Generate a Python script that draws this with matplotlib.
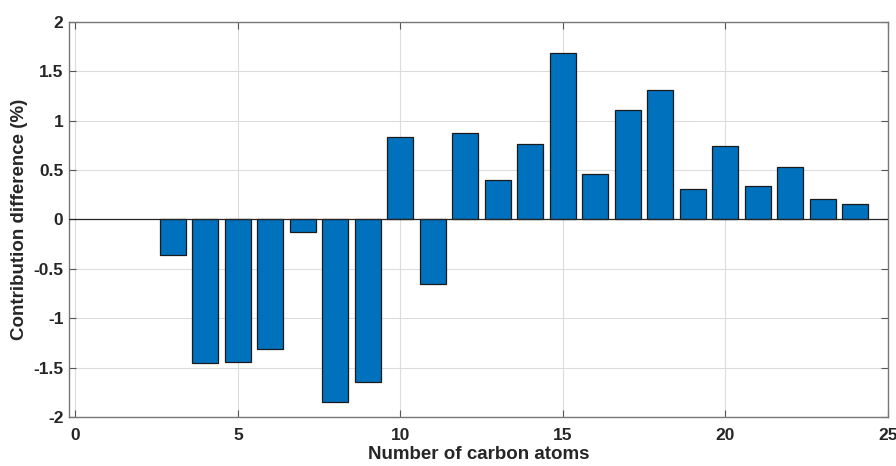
import matplotlib
matplotlib.use("Agg")
import matplotlib.pyplot as plt

carbon_atoms = [3, 4, 5, 6, 7, 8, 9, 10, 11, 12, 13, 14, 15, 16, 17, 18, 19, 20, 21, 22, 23, 24]
contribution_diff = [-0.36, -1.45, -1.44, -1.31, -0.13, -1.85, -1.64, 0.84, -0.65, 0.875,
                     0.40, 0.76, 1.69, 0.46, 1.11, 1.31, 0.305, 0.74, 0.335, 0.535, 0.21, 0.155]
x_ticks = [0, 5, 10, 15, 20, 25]
y_ticks = [-2, -1.5, -1, -0.5, 0, 0.5, 1, 1.5, 2]

plt.rcParams['font.family'] = ['Liberation Sans', 'DejaVu Sans']
plt.rcParams['font.weight'] = 'bold'

fig = plt.figure(figsize=(8.96, 4.66), dpi=100)
ax = fig.add_axes([0.077, 0.105, 0.914, 0.848])

ax.bar(carbon_atoms, contribution_diff, width=0.8, color='#0072BD',
       edgecolor='#1a1a1a', linewidth=0.9, zorder=3)
ax.axhline(0, color='#262626', linewidth=0.9, zorder=4)

ax.set_xlim(-0.2, 25)
ax.set_ylim(-2, 2)
ax.set_xticks(x_ticks)
ax.set_yticks(y_ticks)
ax.set_xticklabels([str(v) for v in x_ticks])
ax.set_yticklabels([('%g' % v) for v in y_ticks])

ax.grid(True, color='#dcdcdc', linewidth=0.8, zorder=0)
ax.set_axisbelow(True)
ax.tick_params(direction='in', top=True, right=True, length=5, width=0.8,
               colors='#555555', labelcolor='#262626', labelsize=12.5, pad=4)
ax.tick_params(axis='x', pad=8)
for lab in ax.get_xticklabels() + ax.get_yticklabels():
    lab.set_fontweight('bold')
for s in ax.spines.values():
    s.set_color('#777777')
    s.set_linewidth(1.0)

ax.set_xlabel('Number of carbon atoms', fontsize=13.5, fontweight='bold', color='#262626', labelpad=2)
ax.set_ylabel('Contribution difference (%)', fontsize=13.5, fontweight='bold', color='#262626', labelpad=4)

fig.savefig('out.png', dpi=100)
